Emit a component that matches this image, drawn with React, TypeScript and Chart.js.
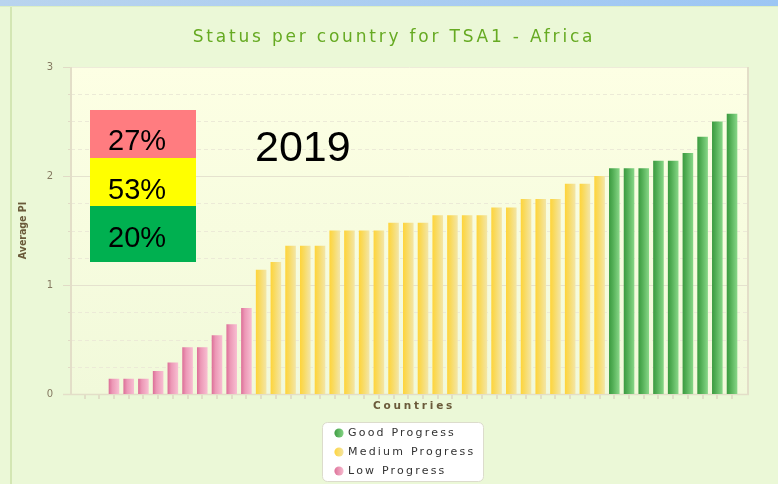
import React, { useEffect, useRef } from 'react';
import { Chart, registerables } from 'chart.js';

Chart.register(...registerables);

// ---------- data ----------
const chartTitle = 'Status per country for TSA1 - Africa';
const xAxisTitle = 'Countries';
const yAxisTitle = 'Average PI';
const seriesNames = ['Good Progress', 'Medium Progress', 'Low Progress'];

const categories = [
  '1', '2', '3', '4', '5', '6', '7', '8', '9', '10',
  '11', '12', '13', '14', '15', '16', '17', '18', '19', '20',
  '21', '22', '23', '24', '25', '26', '27', '28', '29', '30',
  '31', '32', '33', '34', '35', '36', '37', '38', '39', '40',
  '41', '42', '43', '44', '45',
];

const lowProgress = [0, 0, 0.14, 0.14, 0.14, 0.21, 0.29, 0.43, 0.43, 0.54, 0.64, 0.79];
const mediumProgress = [
  1.14, 1.21, 1.36, 1.36, 1.36, 1.5, 1.5, 1.5, 1.5, 1.57, 1.57, 1.57,
  1.64, 1.64, 1.64, 1.64, 1.71, 1.71, 1.79, 1.79, 1.79, 1.93, 1.93, 2.0,
];
const goodProgress = [2.07, 2.07, 2.07, 2.14, 2.14, 2.21, 2.36, 2.5, 2.57];

const yMin = 0;
const yMax = 3;
const yStep = 0.25;

const shareLabels = ['27%', '53%', '20%'];
const yearLabel = '2019';

// ---------- styles ----------
const W = 778;
const H = 484;
const BAR_PCT = 0.72;

const gradLow = ['#DC6E97', '#EC98B6', '#F8BFD2'];
const gradMed = ['#FFD43A', '#F9DA5E', '#F3E6A8'];
const gradGood = ['#3B9A40', '#52AE55', '#88D788'];

function makeBarGradient(stops: string[]) {
  return (c: any) => {
    const chart = c.chart;
    const area = chart.chartArea;
    if (!area || c.dataIndex === undefined || !chart.scales.x) return stops[1];
    const x = chart.scales.x.getPixelForValue(c.dataIndex);
    const w = (area.width / categories.length) * BAR_PCT;
    const g = chart.ctx.createLinearGradient(x - w / 2, 0, x + w / 2, 0);
    g.addColorStop(0, stops[0]);
    g.addColorStop(0.35, stops[1]);
    g.addColorStop(1, stops[2]);
    return g;
  };
}

function spaced(obj: any, method: string, ls: string, dx: () => number) {
  if (!obj || obj['__sp_' + method]) return;
  const orig = obj[method];
  obj[method] = function (...args: any[]) {
    const c = this.ctx;
    c.save();
    (c as any).letterSpacing = ls;
    c.translate(dx(), 0);
    orig.apply(this, args);
    c.restore();
  };
  obj['__sp_' + method] = true;
}

const decoPlugin = {
  id: 'deco',
  afterLayout(chart: any) {
    const tb = chart.titleBlock;
    if (tb) spaced(tb, 'draw', '2.8px', () => 394 - (tb.left + tb.right) / 2);
    const xs = chart.scales.x;
    if (xs) spaced(xs, 'drawTitle', '2.8px', () => 414 - (xs.left + xs.right) / 2);
  },
  beforeDraw(chart: any) {
    const { ctx, chartArea: a, scales } = chart;
    const y = scales.y;
    const x = scales.x;
    ctx.save();
    ctx.fillStyle = '#EBF8D7';
    ctx.fillRect(0, 0, W, H);
    // top band
    const tg = ctx.createLinearGradient(0, 0, W, 0);
    tg.addColorStop(0, '#B9D4EE');
    tg.addColorStop(1, '#9CC6F4');
    ctx.fillStyle = tg;
    ctx.fillRect(0, 0, W, 6);
    ctx.fillStyle = '#DDEFC4';
    ctx.fillRect(0, 6, W, 1);
    // left frame line
    ctx.fillStyle = '#D3E6B3';
    ctx.fillRect(10, 7, 2, H - 7);

    const L = a.left - 6.2;
    const R = a.right + 8.6;
    const T = y.getPixelForValue(yMax);
    const B = y.getPixelForValue(yMin);
    const pg = ctx.createLinearGradient(0, T, 0, B);
    pg.addColorStop(0, '#FDFFE4');
    pg.addColorStop(1, '#F1F9DA');
    ctx.fillStyle = pg;
    ctx.fillRect(L, T, R - L, B - T);

    // grid lines
    for (const t of y.ticks) {
      const v = t.value;
      if (v <= yMin || v >= yMax) continue;
      const py = Math.round(y.getPixelForValue(v)) + 0.5;
      const major = Number.isInteger(v);
      ctx.beginPath();
      ctx.lineWidth = 1;
      ctx.strokeStyle = major ? '#E5E2CE' : '#ECEAD7';
      ctx.setLineDash(major ? [] : [4, 3]);
      ctx.moveTo(L, py);
      ctx.lineTo(R, py);
      ctx.stroke();
    }
    ctx.setLineDash([]);
    // y tick marks
    for (const t of y.ticks) {
      const v = t.value;
      const py = Math.round(y.getPixelForValue(v)) + 0.5;
      const major = Number.isInteger(v);
      ctx.beginPath();
      ctx.lineWidth = 1;
      ctx.strokeStyle = '#E0DBC6';
      ctx.moveTo(major ? L - 8 : L - 3, py);
      ctx.lineTo(L, py);
      ctx.stroke();
    }
    // x tick marks
    ctx.strokeStyle = '#DCD7C1';
    ctx.lineWidth = 1.5;
    for (let i = 0; i < categories.length; i++) {
      const px = Math.round(x.getPixelForValue(i));
      ctx.beginPath();
      ctx.moveTo(px, B);
      ctx.lineTo(px, B + 5);
      ctx.stroke();
    }
    // frame
    ctx.strokeStyle = '#EEEBD9';
    ctx.lineWidth = 1;
    ctx.beginPath();
    ctx.moveTo(L, T + 0.5);
    ctx.lineTo(R, T + 0.5);
    ctx.stroke();
    ctx.strokeStyle = '#E3DEC8';
    ctx.lineWidth = 2;
    ctx.beginPath();
    ctx.moveTo(L, T);
    ctx.lineTo(L, B);
    ctx.moveTo(R, T);
    ctx.lineTo(R, B + 1);
    ctx.stroke();
    ctx.lineWidth = 1.5;
    ctx.beginPath();
    ctx.moveTo(L - 8, B + 0.5);
    ctx.lineTo(R + 1, B + 0.5);
    ctx.stroke();
    ctx.restore();
  },
  afterDraw(chart: any) {
    const { ctx } = chart;
    ctx.save();
    (ctx as any).letterSpacing = '0px';
    // share boxes
    const boxes = [
      { c: '#FF7C80', y0: 110, y1: 158, base: 150 },
      { c: '#FFFF00', y0: 158, y1: 206, base: 198.5 },
      { c: '#00B050', y0: 206, y1: 262, base: 246.5 },
    ];
    boxes.forEach((b, i) => {
      ctx.fillStyle = b.c;
      ctx.fillRect(90, b.y0, 106, b.y1 - b.y0);
      ctx.fillStyle = '#000000';
      ctx.font = "29px 'Liberation Sans', Arial, sans-serif";
      ctx.textAlign = 'left';
      ctx.textBaseline = 'alphabetic';
      ctx.fillText(shareLabels[i], 108, b.base);
    });
    ctx.font = "43px 'Liberation Sans', Arial, sans-serif";
    ctx.fillText(yearLabel, 255, 161);

    // legend
    const lx = 322, ly = 422, lw = 161, lh = 59;
    ctx.beginPath();
    ctx.roundRect(lx + 0.5, ly + 0.5, lw, lh, 5);
    ctx.fillStyle = '#FFFFFF';
    ctx.fill();
    ctx.strokeStyle = '#DCDCCC';
    ctx.lineWidth = 1;
    ctx.stroke();
    const stopsList = [gradGood, gradMed, gradLow];
    chart.data.datasets.forEach((ds: any, i: number) => {
      const cy = 433 + i * 19;
      const cx = 339;
      const st = stopsList[i];
      const rg = ctx.createLinearGradient(cx - 5, 0, cx + 5, 0);
      rg.addColorStop(0, st[0]);
      rg.addColorStop(1, st[2]);
      ctx.beginPath();
      ctx.arc(cx, cy, 4.6, 0, Math.PI * 2);
      ctx.fillStyle = rg;
      ctx.fill();
      ctx.fillStyle = '#333333';
      (ctx as any).letterSpacing = '2.2px';
      ctx.font = "11px 'DejaVu Sans', Verdana, sans-serif";
      ctx.textAlign = 'left';
      ctx.textBaseline = 'middle';
      ctx.fillText(ds.label, 348, cy);
    });
    ctx.restore();
  },
};

export default function App() {
  const ref = useRef<HTMLCanvasElement | null>(null);

  useEffect(() => {
    document.body.style.margin = '0';
    const canvas = ref.current;
    if (!canvas) return;
    const n = categories.length;
    const lowData = [...lowProgress, ...Array(n - lowProgress.length).fill(null)];
    const medData = [
      ...Array(lowProgress.length).fill(null),
      ...mediumProgress,
      ...Array(goodProgress.length).fill(null),
    ];
    const goodData = [...Array(n - goodProgress.length).fill(null), ...goodProgress];

    const chart = new Chart(canvas, {
      type: 'bar',
      data: {
        labels: categories,
        datasets: [
          { label: seriesNames[0], data: goodData, backgroundColor: makeBarGradient(gradGood), grouped: false } as any,
          { label: seriesNames[1], data: medData, backgroundColor: makeBarGradient(gradMed), grouped: false } as any,
          { label: seriesNames[2], data: lowData, backgroundColor: makeBarGradient(gradLow), grouped: false } as any,
        ],
      },
      options: {
        responsive: false,
        animation: false,
        events: [],
        datasets: { bar: { categoryPercentage: 1, barPercentage: BAR_PCT, borderWidth: 0 } } as any,
        layout: { padding: { left: 0, right: 38.6, top: 0, bottom: 66 } },
        plugins: {
          legend: { display: false },
          tooltip: { enabled: false },
          title: {
            display: true,
            text: chartTitle,
            color: '#66AA22',
            font: { family: "'DejaVu Sans', Verdana, sans-serif", size: 17, weight: 'normal' },
            padding: { top: 27.8, bottom: 18.8 },
          },
        },
        scales: {
          x: {
            type: 'category',
            grid: { display: false, drawTicks: false },
            border: { display: false },
            ticks: { display: false },
            title: {
              display: true,
              text: xAxisTitle,
              color: '#6A5A3A',
              font: { family: "'DejaVu Sans', Verdana, sans-serif", size: 10.5, weight: 'bold' },
              padding: 5,
            },
            afterFit: (s: any) => { s.height = 24; },
          },
          y: {
            min: yMin,
            max: yMax,
            grid: { display: false, drawTicks: false },
            border: { display: false },
            ticks: {
              stepSize: yStep,
              autoSkip: false,
              padding: 24,
              color: '#857A62',
              font: { family: "'DejaVu Sans', Verdana, sans-serif", size: 10 },
              callback: (v: any) => (Number.isInteger(v) ? String(v) : ''),
            },
            title: {
              display: true,
              text: yAxisTitle,
              color: '#6A5A3A',
              font: { family: "'DejaVu Sans Condensed', 'Liberation Sans Narrow', 'DejaVu Sans', sans-serif", size: 10.5, weight: 'bold' },
              padding: 17,
            },
            afterFit: (s: any) => { s.width = 77.2; },
          },
        },
      },
      plugins: [decoPlugin],
    });
    return () => chart.destroy();
  }, []);

  return (
    <div style={{ width: W, height: H }}>
      <canvas ref={ref} width={W} height={H} style={{ display: 'block' }} />
    </div>
  );
}
